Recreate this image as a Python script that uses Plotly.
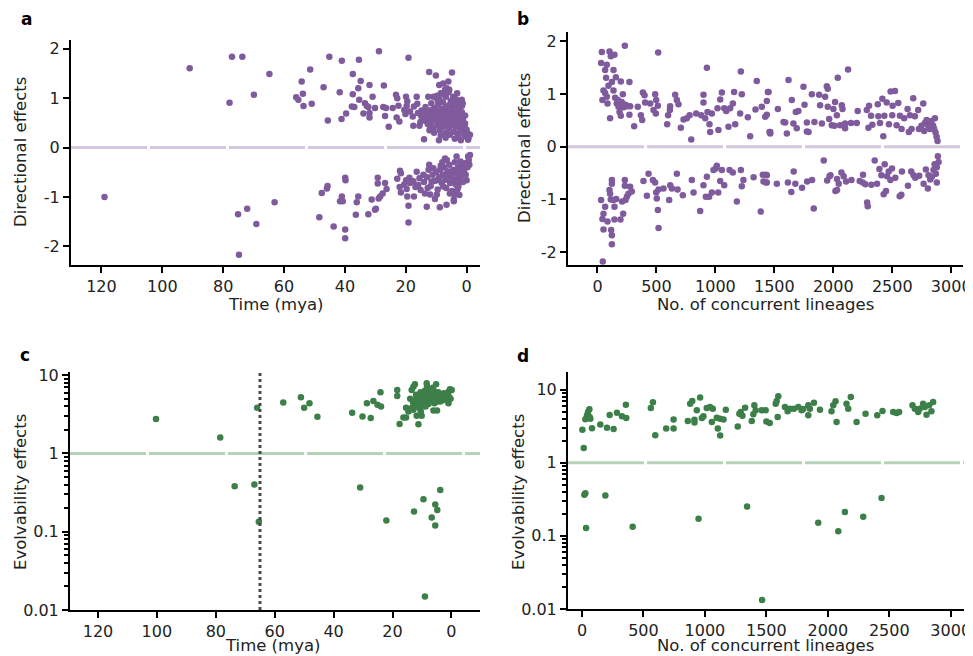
import plotly.graph_objects as go
from plotly.subplots import make_subplots

# ---- panel a: directional effects vs time (mya) ----
time_a = [91.0, 77.1, 73.7, 77.9, 69.9, 64.8, 56.0, 55.3, 54.2, 53.8, 53.6, 51.4, 50.9,
          47.0, 45.6, 45.1, 41.7, 41.1, 41.0, 39.6, 37.4, 37.7, 37.4, 36.9, 35.6, 35.4, 35.3,
          34.8, 33.9, 33.4, 32.8, 32.3, 31.9, 31.9, 31.9, 30.9, 30.1, 28.8, 27.4, 27.2, 26.8,
          26.5, 25.6, 24.3, 23.2, 23.0, 22.8, 22.4, 22.1, 19.9, 19.7, 19.5, 19.1, 20.5, 20.1,
          18.6, 17.7, 17.5, 17.3, 16.4, 16.2, 15.5, 14.9, 14.0, 13.7, 12.6, 12.3, 12.0, 11.5,
          10.9, 10.4, 10.1, 9.6, 9.0, 8.5, 7.7, 7.1, 6.8, 6.0, 5.7, 4.8, 4.4, 3.1, 1.6, 1.3,
          0.5, -0.5, -1.1, 0.0,
          14.5, 13.8, 13.2, 12.8, 12.5, 12.0, 11.8, 11.4, 11.0, 10.8, 10.5, 10.2, 10.0, 9.8,
          9.5, 9.3, 9.0, 8.8, 8.6, 8.4, 8.2, 8.0, 7.8, 7.6, 7.4, 7.2, 7.0, 6.8, 6.6, 6.4, 6.2,
          6.0, 5.8, 5.6, 5.4, 5.2, 5.0, 4.8, 4.6, 4.4, 4.2, 4.0, 3.8, 3.6, 3.4, 3.2, 3.0, 2.8,
          2.6, 2.4, 2.2, 2.0, 1.8, 1.6, 1.4, 1.2, 1.0, 0.8, 0.6, 0.4, 0.2, -0.2, -0.6, 11.6,
          9.7, 8.9, 7.5, 6.5, 5.9, 5.3, 4.5, 3.5, 2.5, 1.5, 0.5, 12.2, 13.5, 14.8, 16.0, 15.2,
          8.5, 6.9, 5.5, 3.9, 2.7, 1.9, 10.7, 9.1,
          119.0, 75.1, 72.1, 69.1, 74.8, 63.1, 48.4, 47.6, 45.9, 45.7, 43.7, 41.6, 41.0, 40.7,
          39.9, 39.8, 39.9, 39.9, 36.4, 36.1, 35.6, 32.3, 31.2, 30.1, 29.8, 29.2, 29.2, 28.9,
          28.4, 27.6, 26.8, 26.3, 22.8, 21.9, 21.6, 21.6, 19.9, 19.7, 19.5, 19.1, 19.1, 18.8,
          18.6, 17.5, 17.3, 16.4, 15.9, 15.1, 14.2, 13.7, 13.1, 12.8, 12.3, 11.5, 10.9, 10.4,
          9.8, 8.8, 8.5, 7.7, 7.1, 6.6, 6.0, 5.5, 4.2, 4.2, 3.3, 2.7, 2.4, 1.6, 1.1, 0.0,
          -0.5, -0.9, -1.1,
          14.0, 13.0, 12.5, 11.8, 11.2, 10.6, 10.0, 9.5, 9.0, 8.7, 8.2, 7.8, 7.4, 7.0, 6.7,
          6.3, 6.0, 5.7, 5.4, 5.0, 4.8, 4.5, 4.2, 3.9, 3.6, 3.3, 3.0, 2.8, 2.5, 2.2, 2.0, 1.8,
          1.4, 1.2, 0.9, 0.6, 0.3, -0.3, -0.7, 8.0, 6.5, 4.0, 3.0, 9.8, 12.0, 15.5, 16.8,
          17.8, 20.5, 22.0]
dir_a = [1.61, 1.84, 1.84, 0.91, 1.07, 1.49, 1.02, 0.97, 1.34, 1.09, 0.84, 1.58, 0.89,
         1.22, 0.55, 1.84, 1.12, 0.58, 1.76, 0.69, 1.08, 0.83, 1.49, 0.82, 1.20, 1.78, 0.97,
         1.35, 0.69, 0.90, 0.84, 0.82, 0.61, 1.27, 0.70, 1.03, 0.80, 1.95, 0.82, 1.26, 0.64,
         0.80, 0.42, 0.80, 1.07, 0.61, 1.00, 0.85, 0.53, 1.03, 0.84, 0.94, 1.82, 0.76, 0.68,
         0.73, 0.63, 0.44, 0.83, 1.03, 0.89, 0.44, 0.64, 0.17, 0.59, 1.03, 1.53, 0.43, 0.76,
         1.03, 0.59, 1.46, 0.97, 1.27, 1.10, 1.30, 1.17, 1.03, 1.34, 1.17, 1.52, 1.03, 1.10,
         0.97, 0.90, 0.49, 0.16, 0.26, 0.36,
         0.62, 0.55, 0.70, 0.48, 0.66, 0.58, 0.75, 0.52, 0.68, 0.40, 0.80, 0.62, 0.55, 0.72,
         0.45, 0.88, 0.65, 0.35, 0.58, 0.78, 0.50, 0.70, 0.92, 0.42, 0.62, 0.55, 0.80, 0.30,
         0.68, 0.48, 0.85, 0.60, 0.38, 0.72, 0.55, 0.95, 0.45, 0.66, 0.78, 0.50, 0.32, 0.62,
         0.85, 0.42, 0.70, 0.55, 0.28, 0.60, 0.78, 0.45, 0.65, 0.35, 0.52, 0.72, 0.40, 0.58,
         0.30, 0.48, 0.25, 0.38, 0.22, 0.30, 0.20, 0.90, 1.05, 0.98, 1.08, 1.20, 1.12, 0.88,
         0.92, 0.98, 0.90, 0.85, 0.65, 0.35, 0.82, 0.75, 0.70, 0.52, 0.25, 0.20, 0.26, 0.18,
         0.22, 0.15, 0.30, 0.15,
         -1.00, -1.35, -1.24, -1.55, -2.17, -1.11, -1.41, -0.92, -0.83, -0.78, -1.60, -1.09,
         -0.99, -1.09, -0.61, -0.66, -1.66, -1.84, -1.36, -1.11, -0.99, -1.35, -1.05, -1.26,
         -1.24, -0.61, -0.73, -1.03, -0.99, -0.93, -0.72, -0.84, -0.63, -0.47, -0.91, -0.52,
         -0.66, -0.84, -0.99, -1.18, -1.52, -0.61, -0.72, -0.69, -0.99, -0.49, -0.76, -0.86,
         -0.55, -0.93, -1.20, -0.82, -0.35, -0.69, -0.42, -1.04, -0.66, -1.21, -0.37, -0.79,
         -0.22, -1.16, -0.52, -0.93, -1.09, -1.05, -0.18, -0.79, -0.96, -0.35, -0.52, -0.66,
         -0.18, -0.35, -0.15,
         -0.70, -0.60, -0.45, -0.78, -0.55, -0.68, -0.50, -0.85, -0.60, -0.45, -0.72, -0.55,
         -0.40, -0.65, -0.82, -0.48, -0.60, -0.35, -0.72, -0.55, -0.88, -0.45, -0.65, -0.30,
         -0.75, -0.52, -0.62, -0.40, -0.68, -0.50, -0.28, -0.58, -0.42, -0.70, -0.48, -0.32,
         -0.55, -0.40, -0.25, -0.30, -0.25, -0.95, -0.85, -0.95, -0.95, -0.62, -0.80, -0.68,
         -0.75, -0.80]

# ---- panel b: directional effects vs no. of concurrent lineages ----
lin_b = [37, 31, 65, 79, 73, 42, 51, 65, 79, 85, 93, 102, 107, 113, 122, 136, 144, 136, 150,
         156, 164, 173, 178, 187, 198, 198, 206, 215, 221, 232, 238, 254, 271, 271, 277, 311,
         342, 368, 379, 385, 399, 404, 447, 475, 489, 498, 495, 515, 512, 591, 599, 614, 616,
         659, 673, 687, 707, 730, 758, 781, 795, 837, 880, 899, 899, 914, 928, 933, 950, 956,
         970, 1018, 1026, 1041, 1055, 1075, 1092, 1111, 1125, 1148, 1159, 1168, 1210, 1216,
         1224, 1275, 1295, 1351, 1340, 1394, 1422, 1436, 1445, 1459, 1465,
         1451, 1436, 1465, 1530, 1578, 1592, 1606, 1620, 1648, 1662, 1682, 1690, 1704, 1747,
         1756, 1776, 1776, 1790, 1818, 1840, 1880, 1888, 1903, 1931, 1945, 1953, 1953, 1965,
         1987, 2001, 2010, 2015, 2030, 2038, 2058, 2072, 2078, 2100, 2100, 2125, 2150, 2207,
         2199, 2284, 2298, 2303, 2320, 2331, 2377, 2382, 2396, 2416, 2424, 2433, 2453, 2472,
         2486, 2500, 2503, 2523, 2537, 2551, 2565, 2579, 2601, 2630, 2641, 2650, 2664, 2678,
         2692, 2720, 2726, 2763, 2777, 2791, 2805, 2819, 2833, 2847, 2856, 2862, 2867, 2876,
         2884, 2771, 2748,
         31, 51, 42, 51, 45, 65, 85, 102, 107, 113, 122, 122, 116, 122, 122, 136, 144, 144, 159,
         195, 209, 218, 232, 232, 238, 249, 263, 277, 291, 390, 419, 433, 470, 489, 498, 503,
         512, 518, 518, 560, 608, 617, 631, 673, 679, 724, 800, 815, 871, 899, 919, 928, 947,
         970, 984, 1003, 1012, 1024, 1041, 1055, 1075, 1120, 1148, 1182, 1216, 1224, 1238,
         1324, 1385, 1402, 1408, 1430, 1430,
         1436, 1436, 1521, 1615, 1644, 1664, 1678, 1735, 1778, 1820, 1834, 1919, 1948, 1968,
         1976, 2018, 2032, 2032, 2046, 2069, 2088, 2108, 2154, 2224, 2252, 2250, 2272, 2287,
         2292, 2323, 2351, 2371, 2391, 2408, 2427, 2436, 2447, 2456, 2470, 2484, 2498, 2526,
         2563, 2577, 2582, 2633, 2661, 2681, 2695, 2729, 2766, 2785, 2802, 2808, 2822, 2836,
         2850, 2859, 2870, 2878, 2887, 2878, 2893]
dir_b = [1.80, 1.59, 1.46, 1.56, 1.31, 0.89, 1.07, 1.02, 0.95, 0.82, 1.16, 1.81, 0.54, 1.72,
         1.23, 1.07, 1.75, 1.46, 0.93, 1.32, 0.82, 0.89, 0.76, 0.66, 1.24, 0.59, 0.85, 1.00,
         0.75, 1.92, 0.80, 0.77, 1.23, 0.61, 0.77, 0.39, 0.76, 0.60, 0.51, 1.03, 0.98, 0.84,
         0.82, 0.70, 1.00, 0.89, 0.63, 1.79, 0.78, 0.43, 0.60, 0.70, 0.77, 0.99, 0.89, 0.81,
         0.36, 0.52, 0.54, 0.60, 0.14, 0.63, 0.60, 0.99, 0.84, 0.54, 1.50, 0.66, 0.43, 0.28,
         0.63, 0.73, 0.32, 0.90, 1.03, 0.73, 0.68, 0.38, 0.73, 0.82, 1.04, 0.43, 0.63, 1.43,
         1.00, 0.56, 0.20, 1.25, 0.71, 0.76, 0.57, 0.61, 1.04, 0.28, 0.25,
         1.04, 0.87, 0.28, 0.72, 0.47, 0.46, 0.25, 1.27, 0.89, 0.44, 0.66, 0.35, 0.68, 1.14,
         0.80, 0.46, 0.29, 0.28, 1.00, 0.47, 0.99, 0.79, 0.44, 0.95, 1.15, 1.10, 0.76, 0.53,
         0.41, 0.72, 0.40, 0.85, 0.60, 1.31, 0.41, 0.79, 0.72, 0.44, 0.35, 1.47, 0.45, 0.68,
         0.45, 0.70, 0.36, 0.78, 0.59, 0.42, 0.81, 0.58, 0.45, 0.91, 0.20, 0.59, 0.84, 0.43,
         1.05, 0.60, 0.78, 1.06, 0.41, 0.83, 0.59, 0.34, 0.54, 0.72, 0.28, 0.60, 0.34, 0.92,
         0.58, 0.70, 0.34, 0.82, 0.45, 0.51, 0.40, 0.34, 0.49, 0.40, 0.34, 0.54, 0.27, 0.19,
         0.11, 0.30, 0.40,
         -1.01, -1.27, -1.37, -1.57, -2.18, -1.14, -1.42, -0.82, -0.89, -1.00, -0.63, -0.70,
         -1.58, -1.68, -1.85, -1.01, -1.14, -1.38, -0.99, -1.38, -1.04, -1.27, -0.63, -0.74,
         -1.01, -0.95, -0.89, -0.76, -0.85, -0.65, -0.93, -0.51, -0.63, -0.68, -0.87, -0.98,
         -1.20, -1.54, -0.81, -0.79, -1.01, -0.73, -0.79, -0.51, -0.81, -0.92, -0.63, -0.87,
         -1.22, -0.73, -0.95, -0.57, -0.95, -0.87, -0.44, -0.41, -0.36, -0.87, -0.65, -0.44,
         -0.73, -0.44, -0.49, -1.04, -0.44, -0.75, -0.63, -0.58, -1.23, -0.53, -0.66, -0.53,
         -0.68,
         -0.54, -0.68, -0.70, -0.68, -0.86, -0.47, -0.70, -0.78, -0.66, -0.63, -1.17, -0.26,
         -0.64, -0.56, -0.54, -0.84, -0.82, -0.61, -0.70, -0.49, -0.56, -0.66, -0.63, -0.65,
         -0.53, -0.68, -0.71, -1.06, -1.13, -0.72, -0.26, -0.70, -0.42, -0.54, -0.90, -0.33,
         -0.84, -0.56, -0.47, -0.63, -0.41, -0.59, -0.94, -0.91, -0.47, -0.74, -0.47, -0.54,
         -0.59, -0.55, -0.70, -0.43, -0.79, -0.54, -0.62, -0.57, -0.44, -0.33, -0.51, -0.39,
         -0.18, -0.68, -0.29]

# ---- panel c: evolvability effects vs time (mya) ----
time_c = [100.3, 78.5, 73.6, 66.9, 66.0, 65.4, 57.1, 51.1, 50.0, 48.2, 45.5, 33.7, 31.0, 30.2,
          28.7, 27.4, 26.5, 25.1, 23.9, 24.1, 22.1, 18.4, 18.4, 17.6, 16.3, 15.4, 15.4, 14.6,
          13.5, 12.9, 12.4, 12.7, 12.9, 12.0, 11.5, 11.2, 11.8, 10.4, 10.1, 9.5, 9.0, 8.4, 8.1,
          7.2, 6.7, 6.1, 5.5, 5.5, 5.2, 4.8, 3.8, 4.9, 6.1, 3.8, 2.7, 1.6, 1.0, 0.5, -0.1, 1.0,
          14.0, 13.0, 12.0, 11.0, 10.5, 10.0, 9.5, 9.0, 8.5, 8.0, 7.5, 7.0, 6.5, 6.0, 5.5, 5.0,
          4.5, 4.0, 3.5, 3.0, 2.5, 2.0, 9.8, 8.8, 7.8, 6.8, 5.8, 4.8, 3.8, 2.8, 1.8, 0.8, 0.3,
          13.5, 11.5, 10.8, 8.3, 7.3, 6.3, 9.2, 12.5]
evo_c = [2.75, 1.60, 0.38, 0.40, 3.82, 0.134, 4.47, 5.22, 3.82, 4.38, 2.94, 3.30, 0.367, 2.97,
         4.38, 2.83, 4.69, 4.17, 3.97, 6.04, 0.139, 6.46, 5.42, 2.38, 2.88, 2.88, 3.82, 3.43,
         6.46, 7.11, 7.62, 0.181, 3.61, 4.38, 5.32, 2.35, 3.03, 3.43, 3.03, 0.259, 0.0149, 7.85,
         6.46, 5.32, 0.152, 6.46, 0.222, 0.120, 7.62, 0.190, 0.340, 3.54, 3.54, 4.59, 5.86, 4.83,
         6.15, 6.59, 6.46, 4.38,
         5.01, 4.47, 5.62, 4.79, 6.03, 4.17, 5.25, 6.31, 4.57, 5.50, 5.01, 6.61, 4.79, 5.75,
         5.25, 4.57, 6.03, 5.01, 5.50, 4.79, 5.25, 5.75, 4.79, 3.98, 4.27, 5.50, 4.37, 5.25,
         5.62, 5.01, 5.37, 5.25, 5.01, 3.80, 3.98, 3.80, 7.24, 5.89, 6.92, 5.62, 4.79]

# ---- panel d: evolvability effects vs no. of concurrent lineages ----
lin_d = [3, 14, 19, 27, 33, 27, 41, 49, 60, 62, 68, 81, 149, 190, 203, 225, 257, 284, 325, 357,
         360, 412, 560, 577, 596, 685, 745, 745, 861, 880, 897, 915, 915, 934, 948, 961, 975,
         988, 1015, 1042, 1056, 1064, 1097, 1105, 1124, 1124, 1151, 1170, 1267, 1280, 1291,
         1305, 1327, 1343, 1381, 1394, 1402, 1413, 1462, 1465, 1494, 1500, 1527, 1576, 1584,
         1597, 1592, 1651, 1673, 1692, 1724, 1760, 1787, 1800, 1841, 1841, 1854, 1887, 1922,
         1936, 2030, 2044, 2063, 2071, 2085, 2139, 2152, 2166, 2187, 2234, 2288, 2307, 2402,
         2437, 2445, 2532, 2559, 2580, 2689, 2708, 2735, 2748, 2775, 2789, 2803, 2824, 2843,
         2857]
evo_d = [2.82, 1.59, 0.366, 0.383, 0.128, 3.94, 4.44, 4.93, 5.36, 4.21, 3.99, 2.96, 3.33, 0.355,
         3.00, 4.48, 2.90, 4.82, 4.30, 6.22, 4.07, 0.133, 5.60, 6.70, 2.38, 2.94, 3.91, 2.94,
         3.71, 6.41, 6.98, 3.86, 3.55, 5.20, 0.171, 7.76, 4.07, 4.30, 5.60, 5.77, 3.59, 5.48,
         4.12, 2.94, 2.36, 3.99, 3.91, 5.31, 3.13, 4.68, 4.93, 4.39, 5.65, 0.251, 3.71, 4.58,
         6.08, 5.20, 5.20, 0.0133, 5.20, 3.66, 3.48, 6.41, 6.98, 8.09, 4.21, 5.77, 5.04, 5.48,
         5.48, 5.77, 5.20, 5.42, 6.08, 4.44, 5.48, 6.62, 0.151, 5.31, 5.04, 6.08, 6.90, 3.59,
         0.116, 0.212, 6.41, 5.48, 7.93, 3.59, 0.182, 4.68, 4.44, 0.330, 5.08, 4.93, 4.78, 4.93,
         6.08, 5.48, 4.93, 5.48, 6.41, 5.77, 4.53, 6.08, 5.04, 6.76]

dir_ticks = [-2, -1, 0, 1, 2]
dir_labels = ['-2', '-1', '0', '1', '2']
time_ticks = [120, 100, 80, 60, 40, 20, 0]
lin_ticks = [0, 500, 1000, 1500, 2000, 2500, 3000]
log_ticks = [0.01, 0.1, 1, 10]
log_labels = ['0.01', '0.1', '1', '10']
log_minor = [m * 10.0 ** e for e in range(-2, 1) for m in range(2, 10)]

purple = '#7f5a9c'
purple_light = '#d6c7e0'
green = '#3c7f48'
green_light = '#b6d3ba'
font_family = 'DejaVu Sans'

# the page body has an 8px margin, so the figure is placed 8px in from the top-left
OFF = 8
W, H = 973 - OFF, 656 - OFF


def fx(p):  # screen pixel -> paper x
    return (p - OFF) / W


def fy(p):  # screen pixel -> paper y
    return 1 - (p - OFF) / H


fig = make_subplots(rows=2, cols=2)

fig.add_trace(go.Scatter(x=time_a, y=dir_a, mode='markers',
                         marker=dict(color=purple, size=6.5)), row=1, col=1)
fig.add_trace(go.Scatter(x=lin_b, y=dir_b, mode='markers',
                         marker=dict(color=purple, size=6.5)), row=1, col=2)
fig.add_trace(go.Scatter(x=time_c, y=evo_c, mode='markers',
                         marker=dict(color=green, size=6.5)), row=2, col=1)
fig.add_trace(go.Scatter(x=lin_d, y=evo_d, mode='markers',
                         marker=dict(color=green, size=6.5)), row=2, col=2)

# reference lines
for r, c, yv, col in [(1, 1, 0, purple_light), (1, 2, 0, purple_light),
                      (2, 1, 1, green_light), (2, 2, 1, green_light)]:
    fig.add_hline(y=yv, row=r, col=c, line=dict(color=col, width=3, dash='76px,3px'),
                  layer='below')
fig.add_vline(x=65, row=2, col=1, line=dict(color='#4a4a4a', width=3, dash='dot'))

axis_common = dict(showline=True, linecolor='black', linewidth=2, ticks='outside',
                   ticklen=6, tickwidth=2, tickcolor='black', showgrid=False, zeroline=False,
                   automargin=False,
                   tickfont=dict(size=16, color='#222', family=font_family))
fig.update_xaxes(axis_common)
fig.update_yaxes(axis_common)

fig.update_xaxes(row=1, col=1, domain=[fx(71), fx(480)], range=[130, -4.4], tickvals=time_ticks)
fig.update_yaxes(row=1, col=1, domain=[fy(265), fy(40)], range=[-2.38, 2.18],
                 tickvals=dir_ticks, ticktext=dir_labels)
fig.update_xaxes(row=1, col=2, domain=[fx(568), fx(963)], range=[-250, 3100], tickvals=lin_ticks)
fig.update_yaxes(row=1, col=2, domain=[fy(265), fy(32)], range=[-2.245, 2.18],
                 tickvals=dir_ticks, ticktext=dir_labels)
fig.update_xaxes(row=2, col=1, domain=[fx(70), fx(480)], range=[129.5, -9.7], tickvals=time_ticks)
fig.update_yaxes(row=2, col=1, domain=[fy(610), fy(372)], type='log', range=[-2, 1.04],
                 tickvals=log_ticks, ticktext=log_labels,
                 minor=dict(ticks='outside', ticklen=4, tickwidth=1.5, tickcolor='black',
                            tickmode='array', tickvals=log_minor, showgrid=False))
fig.update_xaxes(row=2, col=2, domain=[fx(568), fx(964)], range=[-114, 3108], tickvals=lin_ticks)
fig.update_yaxes(row=2, col=2, domain=[fy(609), fy(372)], type='log', range=[-2, 1.24],
                 tickvals=log_ticks, ticktext=log_labels,
                 minor=dict(ticks='outside', ticklen=4, tickwidth=1.5, tickcolor='black',
                            tickmode='array', tickvals=log_minor, showgrid=False))

# panel letters
for letter, px, py in [('a', 26, 19), ('b', 523, 19), ('c', 25, 355), ('d', 523, 356)]:
    fig.add_annotation(text='<b>' + letter + '</b>', x=fx(px), y=fy(py),
                       xref='paper', yref='paper', xanchor='center', yanchor='middle',
                       showarrow=False, font=dict(size=17, color='black', family=font_family))

# axis titles
title_font = dict(size=16.5, color='#222', family=font_family)
for text, px, py, angle in [('Directional effects', 20, 152, -90),
                            ('Directional effects', 525, 148, -90),
                            ('Evolvability effects', 20, 492, -90),
                            ('Evolvability effects', 518, 492, -90),
                            ('Time (mya)', 275, 305, 0),
                            ('No. of concurrent lineages', 765, 305, 0),
                            ('Time (mya)', 272, 645, 0),
                            ('No. of concurrent lineages', 765, 645, 0)]:
    fig.add_annotation(text=text, x=fx(px), y=fy(py), xref='paper', yref='paper',
                       xanchor='center', yanchor='middle',
                       showarrow=False, textangle=angle, font=title_font)

fig.update_layout(width=W, height=H, margin=dict(l=0, r=0, t=0, b=0),
                  plot_bgcolor='white', paper_bgcolor='white', showlegend=False,
                  font=dict(family=font_family, color='#222'))

fig.write_html("out.html")
